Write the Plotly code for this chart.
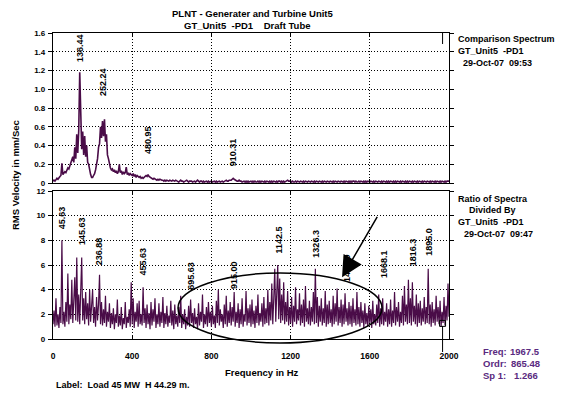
import plotly.graph_objects as go

# ---------------- data ----------------
FREQ_STEP = 5.0  # Hz between spectrum lines

# Comparison spectrum (RMS velocity, mm/s), 0..2000 Hz every 5 Hz
top_vals = [
    # 0-95
    0.02, 0.03, 0.02, 0.04, 0.05, 0.04, 0.06, 0.07, 0.08, 0.21, 0.09, 0.10, 0.12, 0.11, 0.14, 0.16, 0.15, 0.19, 0.22, 0.25,
    # 100-195
    0.28, 0.22, 0.38, 0.26, 0.52, 0.32, 0.56, 1.18, 0.74, 0.36, 0.55, 0.30, 0.50, 0.28, 0.40, 0.22, 0.20, 0.12, 0.09, 0.06,
    # 200-295
    0.06, 0.08, 0.10, 0.14, 0.20, 0.26, 0.38, 0.42, 0.60, 0.48, 0.66, 0.50, 0.68, 0.44, 0.52, 0.30, 0.26, 0.19, 0.16, 0.14,
    # 300-395
    0.15, 0.12, 0.14, 0.11, 0.13, 0.10, 0.12, 0.20, 0.11, 0.13, 0.09, 0.12, 0.10, 0.11, 0.17, 0.09, 0.11, 0.08, 0.10, 0.09,
    # 400-495
    0.08, 0.10, 0.07, 0.09, 0.06, 0.08, 0.07, 0.06, 0.07, 0.05, 0.06, 0.05, 0.06, 0.07, 0.08, 0.07, 0.09, 0.07, 0.06, 0.05,
    # 500-595
    0.05, 0.04, 0.05, 0.04, 0.04, 0.03, 0.04, 0.03, 0.04, 0.03, 0.03, 0.03, 0.02, 0.03, 0.02, 0.03, 0.02, 0.02, 0.03, 0.02,
    # 600-695
    0.02, 0.03, 0.02, 0.02, 0.03, 0.02, 0.02, 0.01, 0.02, 0.03, 0.02, 0.02, 0.01, 0.02, 0.02, 0.03, 0.02, 0.01, 0.02, 0.02,
    # 700-795
    0.02, 0.01, 0.02, 0.02, 0.01, 0.02, 0.03, 0.02, 0.01, 0.02, 0.02, 0.01, 0.02, 0.01, 0.02, 0.02, 0.01, 0.02, 0.01, 0.02,
    # 800-895
    0.02, 0.01, 0.02, 0.02, 0.01, 0.02, 0.01, 0.02, 0.02, 0.01, 0.02, 0.02, 0.01, 0.02, 0.02, 0.03, 0.02, 0.02, 0.03, 0.03,
    # 900-995
    0.03, 0.04, 0.05, 0.04, 0.03, 0.03, 0.02, 0.02, 0.03, 0.02, 0.02, 0.01, 0.02, 0.02, 0.01, 0.02, 0.01, 0.02, 0.01, 0.02,
    # 1000-1095
    0.02, 0.01, 0.02, 0.01, 0.02, 0.01, 0.01, 0.02, 0.01, 0.02, 0.01, 0.02, 0.01, 0.01, 0.02, 0.01, 0.02, 0.01, 0.01, 0.02,
    # 1100-1195
    0.01, 0.02, 0.01, 0.02, 0.01, 0.01, 0.02, 0.01, 0.02, 0.02, 0.01, 0.02, 0.01, 0.02, 0.01, 0.02, 0.02, 0.03, 0.02, 0.02,
    # 1200-1295
    0.02, 0.01, 0.02, 0.01, 0.01, 0.02, 0.01, 0.02, 0.01, 0.01, 0.02, 0.01, 0.01, 0.02, 0.01, 0.02, 0.01, 0.01, 0.02, 0.01,
    # 1300-1395
    0.01, 0.02, 0.01, 0.01, 0.02, 0.01, 0.02, 0.01, 0.01, 0.02, 0.01, 0.01, 0.02, 0.01, 0.02, 0.01, 0.01, 0.02, 0.01, 0.01,
    # 1400-1495
    0.02, 0.01, 0.01, 0.02, 0.01, 0.02, 0.01, 0.01, 0.02, 0.01, 0.01, 0.02, 0.01, 0.01, 0.02, 0.01, 0.02, 0.01, 0.01, 0.02,
    # 1500-1595
    0.01, 0.02, 0.01, 0.02, 0.02, 0.01, 0.02, 0.01, 0.01, 0.02, 0.01, 0.02, 0.01, 0.01, 0.02, 0.01, 0.02, 0.01, 0.02, 0.01,
    # 1600-1695
    0.01, 0.02, 0.01, 0.01, 0.02, 0.01, 0.02, 0.01, 0.01, 0.02, 0.01, 0.01, 0.02, 0.01, 0.02, 0.01, 0.01, 0.02, 0.01, 0.02,
    # 1700-1795
    0.01, 0.02, 0.01, 0.01, 0.02, 0.01, 0.02, 0.01, 0.02, 0.01, 0.01, 0.02, 0.01, 0.02, 0.01, 0.01, 0.02, 0.01, 0.02, 0.01,
    # 1800-1895
    0.02, 0.01, 0.01, 0.02, 0.01, 0.02, 0.01, 0.01, 0.02, 0.01, 0.02, 0.01, 0.01, 0.02, 0.01, 0.02, 0.01, 0.01, 0.02, 0.01,
    # 1900-1995
    0.01, 0.02, 0.01, 0.02, 0.01, 0.01, 0.02, 0.01, 0.02, 0.01, 0.01, 0.02, 0.01, 0.02, 0.01, 0.01, 0.02, 0.01, 0.02, 0.02,
    # 2000
    0.02,
]

# Ratio of spectra, 0..2000 Hz every 5 Hz
ratio_vals = [
    # 0-95
    1.2, 2.3, 1.0, 3.3, 1.1, 2.0, 0.9, 2.6, 1.3, 8.0, 1.2, 2.2, 1.0, 3.0, 1.4, 5.3, 1.2, 2.8, 1.6, 4.8,
    # 100-195
    1.3, 3.2, 5.0, 1.5, 6.6, 1.4, 3.6, 1.2, 4.2, 6.6, 1.5, 3.3, 1.2, 3.8, 1.6, 2.9, 1.1, 4.0, 1.4, 3.1,
    # 200-295
    4.0, 1.3, 2.6, 1.0, 3.4, 1.5, 2.8, 5.2, 1.2, 3.0, 1.1, 2.4, 1.3, 3.5, 1.0, 2.2, 1.4, 2.9, 0.9, 2.1,
    # 300-395
    1.2, 2.5, 0.8, 2.0, 1.3, 3.2, 1.0, 1.9, 1.1, 2.6, 0.8, 1.7, 1.2, 3.0, 0.9, 1.8, 1.3, 2.4, 1.0, 4.6,
    # 400-495
    1.2, 3.3, 0.9, 2.2, 1.4, 2.9, 1.0, 3.1, 1.2, 2.0, 1.1, 4.2, 1.3, 2.5, 0.9, 2.8, 1.2, 2.1, 0.8, 3.0,
    # 500-595
    1.1, 2.4, 1.4, 3.3, 0.9, 2.0, 1.2, 2.9, 1.0, 2.2, 1.3, 3.4, 0.9, 2.1, 1.2, 2.7, 1.0, 1.9, 1.3, 3.1,
    # 600-695
    1.1, 2.3, 0.8, 2.8, 1.2, 1.9, 1.0, 2.6, 1.3, 3.5, 0.9, 2.0, 1.2, 2.4, 0.8, 1.8, 1.1, 2.7, 1.0, 3.2,
    # 700-795
    1.3, 2.1, 0.9, 2.5, 1.2, 1.8, 0.8, 2.9, 1.1, 2.2, 1.4, 3.6, 0.9, 2.0, 1.2, 2.6, 1.0, 3.0, 1.3, 2.2,
    # 800-895
    1.0, 2.7, 1.2, 1.9, 0.9, 3.1, 1.3, 4.0, 1.1, 2.4, 1.4, 2.0, 0.9, 2.8, 1.2, 3.5, 1.0, 2.3, 1.3, 3.0,
    # 900-995
    1.1, 2.6, 1.4, 3.8, 1.0, 2.2, 1.3, 2.9, 0.9, 2.4, 1.2, 3.3, 1.0, 2.0, 1.4, 3.9, 1.1, 2.5, 1.3, 2.8,
    # 1000-1095
    1.0, 3.2, 1.2, 2.3, 0.9, 2.7, 1.3, 3.6, 1.1, 2.1, 1.4, 2.9, 1.0, 3.4, 1.2, 2.5, 1.3, 4.0, 1.1, 3.0,
    # 1100-1195
    1.5, 4.5, 1.2, 3.3, 5.7, 1.4, 3.8, 6.0, 1.6, 4.9, 1.3, 3.6, 1.5, 4.6, 1.2, 3.0, 1.4, 3.9, 1.1, 2.6,
    # 1200-1295
    1.3, 3.4, 1.0, 2.7, 1.4, 4.2, 1.2, 2.4, 1.5, 3.7, 1.1, 2.8, 1.3, 3.2, 1.0, 4.3, 1.4, 2.5, 1.2, 3.1,
    # 1300-1395
    1.1, 2.6, 1.4, 3.8, 1.2, 5.7, 1.3, 3.4, 1.0, 2.7, 1.4, 3.3, 1.1, 2.5, 1.3, 3.9, 1.0, 2.8, 1.2, 3.1,
    # 1400-1495
    1.3, 2.4, 1.0, 3.5, 1.2, 2.9, 1.4, 4.1, 1.1, 2.6, 1.3, 3.2, 1.0, 2.8, 1.2, 3.7, 1.4, 2.5, 1.1, 3.0,
    # 1500-1595
    1.2, 2.7, 1.0, 3.3, 1.3, 2.4, 1.1, 3.8, 1.2, 2.6, 1.0, 3.0, 1.3, 2.3, 0.9, 2.9, 1.2, 2.1, 1.0, 2.7,
    # 1600-1695
    1.3, 2.4, 0.9, 3.1, 1.2, 2.0, 1.1, 2.8, 1.3, 3.6, 1.0, 2.5, 1.2, 3.3, 1.1, 2.2, 1.4, 2.9, 1.0, 2.4,
    # 1700-1795
    1.2, 3.2, 1.0, 2.3, 1.3, 3.8, 1.1, 2.6, 1.4, 3.0, 1.0, 2.2, 1.3, 3.5, 1.1, 4.3, 1.4, 2.8, 1.2, 4.8,
    # 1800-1895
    1.3, 3.3, 1.1, 4.6, 1.4, 2.7, 1.2, 3.6, 1.0, 2.9, 1.3, 3.1, 1.1, 2.5, 1.4, 3.4, 1.2, 2.6, 1.3, 5.7,
    # 1900-1995
    1.2, 2.8, 1.0, 3.0, 1.3, 2.4, 1.1, 3.5, 1.4, 2.6, 1.2, 3.1, 1.0, 2.2, 1.3, 3.4, 1.1, 2.7, 1.5, 4.5,
    # 2000
    1.8,
]

freqs = [i * FREQ_STEP for i in range(len(top_vals))]

x_ticks = [0, 400, 800, 1200, 1600, 2000]
x_tick_labels = ["0", "400", "800", "1200", "1600", "2000"]
top_y_ticks = [0, 0.2, 0.4, 0.6, 0.8, 1.0, 1.2, 1.4, 1.6]
top_y_labels = ["0", "0.2", "0.4", "0.6", "0.8", "1.0", "1.2", "1.4", "1.6"]
bot_y_ticks = [0, 2, 4, 6, 8, 10, 12]
bot_y_labels = ["0", "2", "4", "6", "8", "10", "12"]

top_peak_freqs = [136.44, 252.24, 480.95, 910.31]
top_peak_labels = ["136.44", "252.24", "480.95", "910.31"]
ratio_peak_freqs = [45.63, 145.63, 236.88, 455.63, 695.63, 915.00, 1142.5, 1326.3, 1487.9, 1668.1, 1816.3, 1895.0]
ratio_peak_labels = ["45.63", "145.63", "236.88", "455.63", "695.63", "915.00", "1142.5", "1326.3", "1487.9", "1668.1", "1816.3", "1895.0"]

cursor_freq = 1967.5
cursor_order = 865.48
cursor_sp = 1.266

# ---------------- styling / layout positions ----------------
FONT = "Liberation Sans, Arial, Helvetica, sans-serif"
LINE = "#4a0c48"
PURPLE = "#5a2a80"
W, H = 561, 394
L, R, T, B = 53, 112, 33, 55
PW, PH = W - L - R, H - T - B

top_label_y = [1.44, 1.077, 0.46, 0.33]
ratio_label_y = [9.8, 8.75, 7.1, 6.3, 5.1, 5.2, 8.0, 7.7, 5.72, 6.1, 7.0, 7.9]


def px2x(px):
    return (px - L) / PW


def px2y(py):
    return (H - B - py) / PH


TOP_DOM = [px2y(183), 1.0]
BOT_DOM = [0.0, px2y(191)]

fig = go.Figure()
fig.add_trace(go.Scatter(x=freqs, y=top_vals, mode="lines", line=dict(color=LINE, width=1.6),
                         xaxis="x", yaxis="y", hoverinfo="skip"))
fig.add_trace(go.Scatter(x=freqs, y=ratio_vals, mode="lines", line=dict(color=LINE, width=1.2),
                         xaxis="x2", yaxis="y2", hoverinfo="skip"))
fig.add_trace(go.Scatter(x=[cursor_freq], y=[cursor_sp], mode="markers",
                         marker=dict(symbol="square-open", size=6, color="black", line=dict(width=1)),
                         xaxis="x2", yaxis="y2", hoverinfo="skip"))

tickfont = dict(family=FONT, size=8, color="black", weight="bold")
xtickfont = dict(family=FONT, size=8.5, color="black", weight="bold")
GRID_DASH = "1px,2px"
common_x = dict(range=[0, 2000], tickvals=x_ticks, showgrid=True, gridcolor="black", griddash=GRID_DASH,
                gridwidth=1, showline=True, linecolor="black", linewidth=1.2, ticks="inside", ticklen=4,
                tickcolor="black", zeroline=False, mirror="ticks")
common_y = dict(showgrid=True, gridcolor="black", griddash=GRID_DASH, gridwidth=1, showline=True,
                linecolor="black", linewidth=1.2, ticks="outside", ticklen=4, tickcolor="black",
                zeroline=False, mirror="ticks", tickfont=tickfont, ticklabelstandoff=1)

fig.update_layout(
    width=W, height=H, margin=dict(l=L, r=R, t=T, b=B), paper_bgcolor="white", plot_bgcolor="white",
    showlegend=False, font=dict(family=FONT, size=9, color="black"),
    xaxis=dict(domain=[0, 1], anchor="y", showticklabels=False, **common_x),
    xaxis2=dict(domain=[0, 1], anchor="y2", ticktext=x_tick_labels, tickfont=xtickfont,
                ticklabelstandoff=9, **common_x),
    yaxis=dict(domain=TOP_DOM, anchor="x", range=[0, 1.6], tickvals=top_y_ticks, ticktext=top_y_labels, **common_y),
    yaxis2=dict(domain=BOT_DOM, anchor="x2", range=[0, 12], tickvals=bot_y_ticks, ticktext=bot_y_labels, **common_y),
)

ann = []
lab_font = dict(family=FONT, size=9, color="black", weight="bold")
for f, t, yv in zip(top_peak_freqs, top_peak_labels, top_label_y):
    ann.append(dict(x=f, y=yv, xref="x", yref="y", text=t, textangle=-90, showarrow=False, font=lab_font))
for f, t, yv in zip(ratio_peak_freqs, ratio_peak_labels, ratio_label_y):
    ann.append(dict(x=f, y=yv, xref="x2", yref="y2", text=t, textangle=-90, showarrow=False, font=lab_font))

# arrow pointing into the ellipse
ann.append(dict(x=1460, y=5.0, xref="x2", yref="y2", text="", showarrow=True, arrowhead=2, arrowsize=2.8,
                arrowwidth=1.5, arrowcolor="black", ax=36, ay=-62))

bold = dict(family=FONT, size=9, color="black", weight="bold")
big = dict(family=FONT, size=9.5, color="black", weight="bold")
NB = "\u00a0"


def txt(px, py, s, font=bold, xanchor="left"):
    ann.append(dict(x=px2x(px), y=px2y(py), xref="paper", yref="paper", text=s.replace(" ", NB),
                    showarrow=False, font=font, xanchor=xanchor, yanchor="middle"))


txt(253, 13.5, "PLNT - Generater and Turbine Unit5", big, "center")
txt(247, 25.5, "GT_Unit5  -PD1    Draft Tube", big, "center")

txt(456, 38.5, "Comparison Spectrum")
txt(456, 51, "GT_Unit5  -PD1")
txt(461, 63, "29-Oct-07  09:53")

txt(456, 198.5, "Ratio of Spectra")
txt(467, 210, "Divided By")
txt(456, 222, "GT_Unit5  -PD1")
txt(461.5, 234, "29-Oct-07  09:47")

pfont = dict(family=FONT, size=9.5, color=PURPLE, weight="bold")
txt(481, 351, "Freq:", pfont)
txt(542, 351, f"{cursor_freq:.1f}", pfont, "right")
txt(481, 363, "Ordr:", pfont)
txt(542, 363, f"{cursor_order:.2f}", pfont, "right")
txt(481, 375, "Sp 1:", pfont)
txt(540, 375, f"{cursor_sp:.3f}", pfont, "right")

txt(262, 372, "Frequency in Hz", big, "center")
txt(54, 384.5, "Label:  Load 45 MW  H 44.29 m.", bold)

ann.append(dict(x=px2x(15), y=px2y(175), xref="paper", yref="paper", text="RMS Velocity in mm/Sec",
                textangle=-90, showarrow=False, font=big, xanchor="center", yanchor="middle"))

fig.update_layout(annotations=ann)

# ellipse around the 700-1650 Hz band and cursor lines
fig.add_shape(type="circle", xref="paper", yref="paper", x0=px2x(178), x1=px2x(382), y0=px2y(343), y1=px2y(273),
              line=dict(color="black", width=1.5), layer="above")
fig.add_shape(type="line", xref="x2", yref="paper", x0=cursor_freq, x1=cursor_freq, y0=px2y(326), y1=px2y(352),
              line=dict(color="black", width=1))
fig.add_shape(type="line", xref="x", yref="paper", x0=cursor_freq, x1=cursor_freq, y0=1.0, y1=px2y(44),
              line=dict(color="black", width=1))

fig.write_html("out.html")
